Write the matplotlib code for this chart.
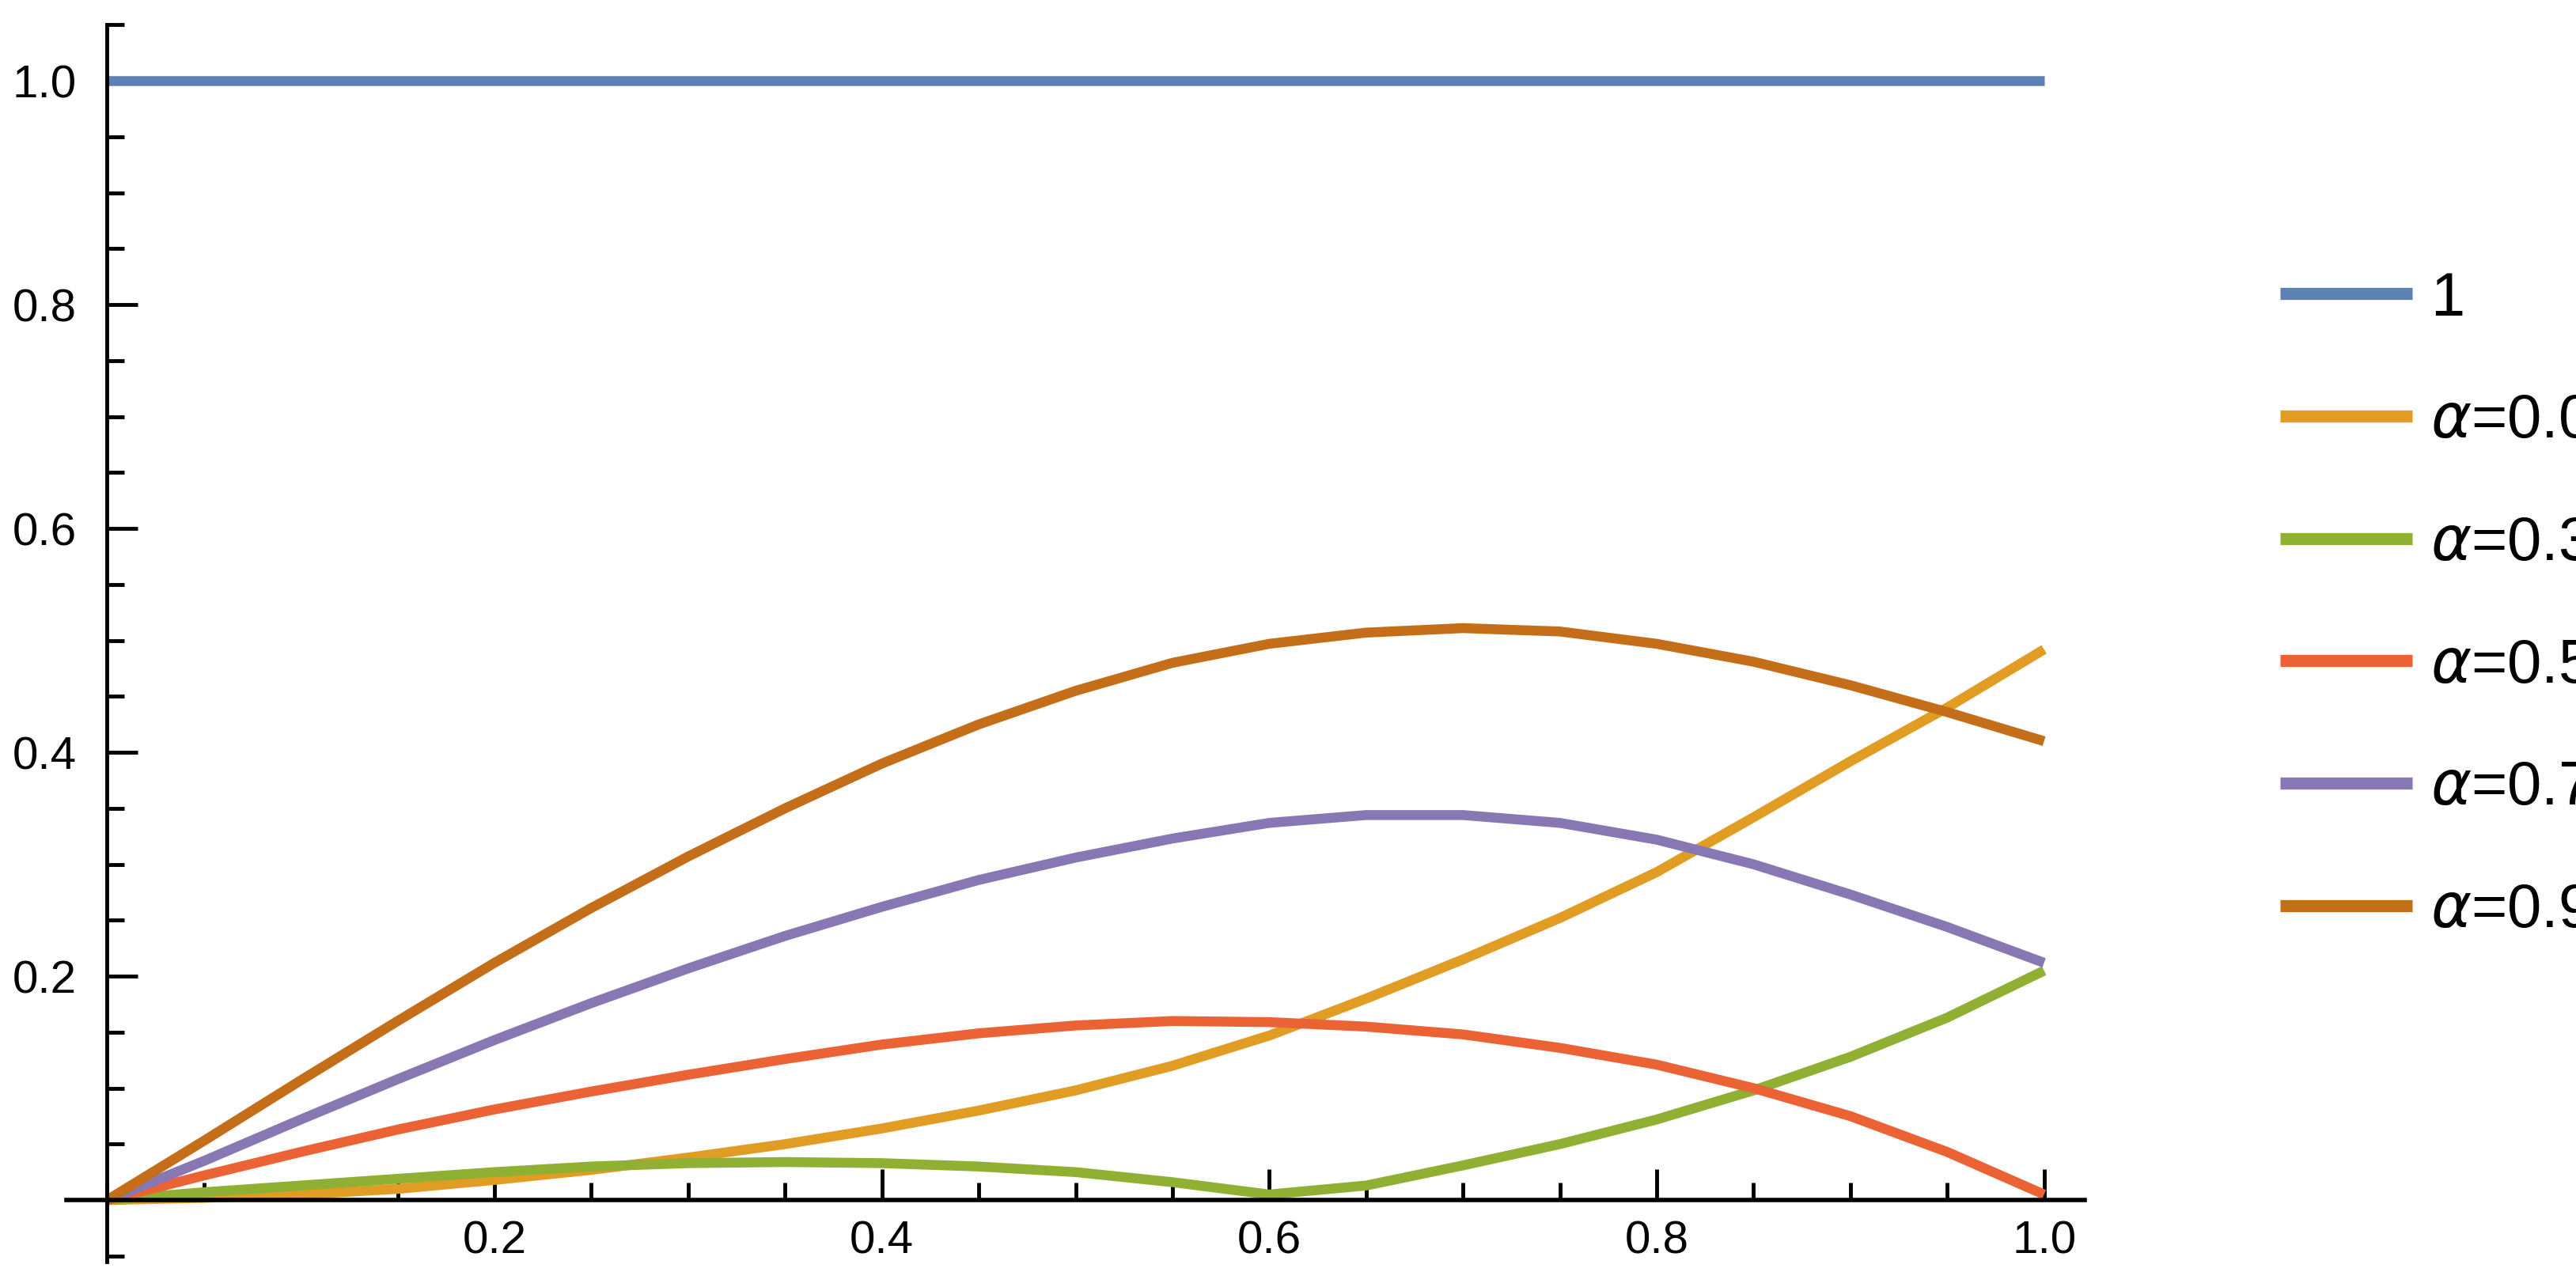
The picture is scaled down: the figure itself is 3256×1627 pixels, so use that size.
import matplotlib
matplotlib.use("Agg")
import matplotlib.pyplot as plt
from matplotlib.ticker import MultipleLocator

x = [0.0, 0.05, 0.1, 0.15, 0.2, 0.25, 0.3, 0.35, 0.4, 0.45, 0.5, 0.55, 0.6, 0.65, 0.7, 0.75, 0.8, 0.85, 0.9, 0.95, 1.0]
one = [1.0]*21
a001 = [0.0, 0.002, 0.005, 0.01, 0.018, 0.027, 0.038, 0.05, 0.064, 0.08, 0.098, 0.12, 0.147, 0.18, 0.215, 0.252, 0.293, 0.342, 0.392, 0.44, 0.492]
a03 = [0.0, 0.007, 0.013, 0.019, 0.025, 0.03, 0.033, 0.034, 0.033, 0.03, 0.025, 0.016, 0.005, 0.013, 0.031, 0.05, 0.072, 0.098, 0.128, 0.163, 0.205]
a05 = [0.0, 0.022, 0.043, 0.063, 0.081, 0.097, 0.112, 0.126, 0.139, 0.149, 0.156, 0.16, 0.159, 0.155, 0.148, 0.136, 0.121, 0.1, 0.075, 0.043, 0.005]
a07 = [0.0, 0.035, 0.072, 0.108, 0.143, 0.176, 0.207, 0.236, 0.262, 0.286, 0.306, 0.323, 0.337, 0.344, 0.344, 0.337, 0.322, 0.3, 0.273, 0.244, 0.212]
a09 = [0.0, 0.053, 0.107, 0.16, 0.212, 0.261, 0.307, 0.35, 0.39, 0.425, 0.455, 0.48, 0.497, 0.507, 0.511, 0.508, 0.497, 0.481, 0.46, 0.436, 0.41]
series = [one, a001, a03, a05, a07, a09]
labels = ["1", r"$\alpha$=0.01", r"$\alpha$=0.3", r"$\alpha$=0.5", r"$\alpha$=0.7", r"$\alpha$=0.9"]
colors = ["#5E81B5", "#E19C24", "#8FB032", "#EB6235", "#8778B3", "#C56E1A"]

plt.rcParams['font.family'] = ['Liberation Sans', 'DejaVu Sans']
fig = plt.figure(figsize=(32.56, 16.27), dpi=100)
ax = fig.add_axes([0.0258, 0.0197, 0.7835, 0.961])
for s, l, c in zip(series, labels, colors):
    ax.plot(x, s, color=c, lw=9, label=l, solid_capstyle='butt', solid_joinstyle='round')
ax.set_xlim(-0.021, 1.021)
ax.set_ylim(-0.055, 1.05)
for sp in ['top', 'right']:
    ax.spines[sp].set_visible(False)
ax.spines['left'].set_position(('data', 0))
ax.spines['bottom'].set_position(('data', 0))
ax.spines['left'].set_linewidth(3.5)
ax.spines['bottom'].set_linewidth(4)
ax.set_xticks([0.2, 0.4, 0.6, 0.8, 1.0])
ax.set_xticklabels(["0.2", "0.4", "0.6", "0.8", "1.0"])
ax.set_yticks([0.2, 0.4, 0.6, 0.8, 1.0])
ax.set_yticklabels(["0.2", "0.4", "0.6", "0.8", "1.0"])
ax.xaxis.set_minor_locator(MultipleLocator(0.05))
ax.yaxis.set_minor_locator(MultipleLocator(0.05))
ax.tick_params(which='both', direction='in', width=3.5, labelsize=42)
ax.tick_params(which='major', length=28, pad=18)
ax.tick_params(which='minor', length=16)
ax.tick_params(axis='y', pad=28)
ax.patch.set_alpha(0)
leg = ax.legend(loc='upper left', bbox_to_anchor=(0.885, 0.79), bbox_transform=fig.transFigure,
                frameon=False, fontsize=56, handlelength=2.15, handletextpad=0.3,
                labelspacing=1.05, borderpad=0, borderaxespad=0)
for h in leg.get_lines():
    h.set_linewidth(11)
fig.savefig("out.png", dpi=100)
